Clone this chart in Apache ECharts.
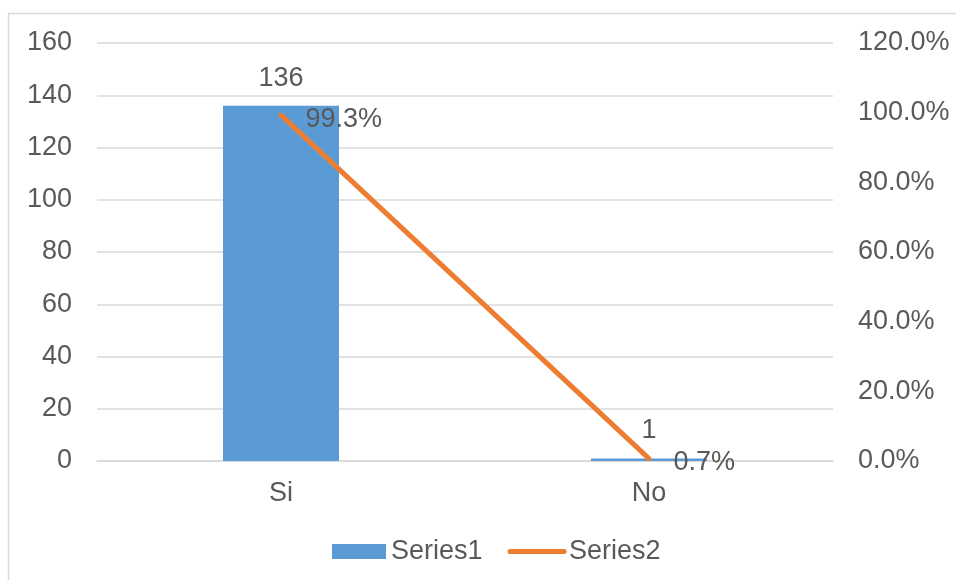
<!DOCTYPE html>
<html>
<head>
<meta charset="utf-8">
<script src="https://cdn.jsdelivr.net/npm/echarts@6/dist/echarts.min.js"></script>
<style>
  html, body { margin: 0; padding: 0; background: #fff; }
  #chart { width: 956px; height: 580px; }
</style>
</head>
<body>
<div id="chart"></div>
<script>
// Answers and their counts / shares
var categories = ['Si', 'No'];
var counts = [136, 1];
var shares = [99.3, 0.7];
var seriesNames = ['Series1', 'Series2'];

var textColor = '#595959';
var gridColor = '#D9D9D9';
var fontFamily = '"Liberation Sans", Arial, sans-serif';
var fontSize = 27;

var chart = echarts.init(document.getElementById('chart'), null, { renderer: 'canvas' });

chart.setOption({
  animation: false,
  backgroundColor: '#fff',
  textStyle: { fontFamily: fontFamily },
  graphic: [{
    type: 'rect',
    shape: { x: 8.5, y: 13.5, width: 960, height: 600 },
    style: { fill: 'none', stroke: gridColor, lineWidth: 1.5 },
    silent: true
  }],
  grid: { left: 97, right: 123, top: 43, bottom: 119 },
  legend: {
    top: 533,
    left: 327,
    itemWidth: 54,
    itemHeight: 15,
    itemGap: 25,
    textStyle: { color: textColor, fontSize: fontSize, fontFamily: fontFamily },
    data: [
      { name: seriesNames[0], icon: 'rect' },
      { name: seriesNames[1], itemStyle: { opacity: 0 }, lineStyle: { width: 5, cap: 'round' } }
    ]
  },
  xAxis: {
    type: 'category',
    data: categories,
    axisLine: { lineStyle: { color: gridColor, width: 1.5 } },
    axisTick: { show: false },
    axisLabel: { color: textColor, fontSize: fontSize, margin: 19 }
  },
  yAxis: [{
    type: 'value',
    min: 0, max: 160, interval: 20,
    axisLine: { show: false },
    axisTick: { show: false },
    axisLabel: { color: textColor, fontSize: fontSize, margin: 25 },
    splitLine: { lineStyle: { color: gridColor, width: 1.5 } }
  }, {
    type: 'value',
    min: 0, max: 120, interval: 20,
    axisLine: { show: false },
    axisTick: { show: false },
    splitLine: { show: false },
    axisLabel: {
      color: textColor, fontSize: fontSize, margin: 25,
      formatter: function (v) { return v.toFixed(1) + '%'; }
    }
  }],
  series: [{
    name: seriesNames[0],
    type: 'bar',
    data: counts,
    barWidth: 116,
    itemStyle: { color: '#5B9BD5' },
    label: {
      show: true, position: 'top', distance: 14,
      color: textColor, fontSize: fontSize
    }
  }, {
    name: seriesNames[1],
    type: 'line',
    yAxisIndex: 1,
    data: shares,
    symbol: 'circle',
    symbolSize: 1,
    showSymbol: true,
    lineStyle: { color: '#ED7D31', width: 5, cap: 'round' },
    itemStyle: { color: '#ED7D31' },
    label: {
      show: true, position: 'right', distance: 24, offset: [0, 4],
      color: textColor, fontSize: fontSize,
      formatter: function (p) { return p.value.toFixed(1) + '%'; }
    }
  }]
});
</script>
</body>
</html>
